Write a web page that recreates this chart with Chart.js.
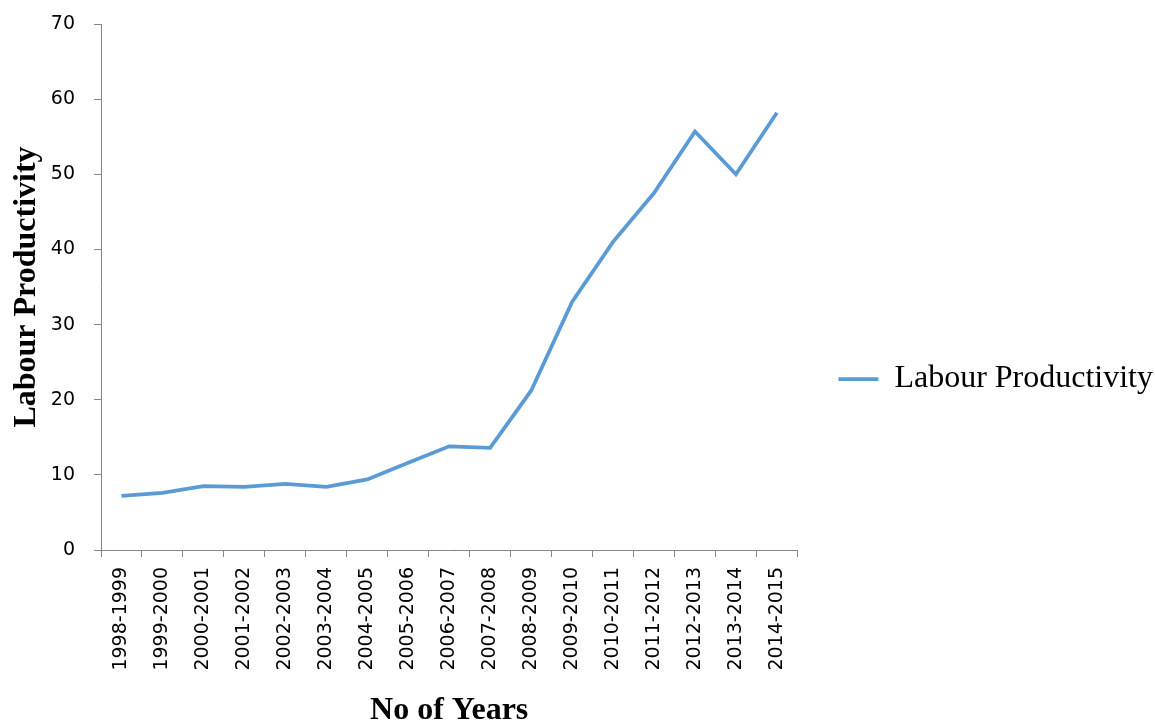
<!DOCTYPE html>
<html>
<head>
<meta charset="utf-8">
<title>Labour Productivity</title>
<script src="https://cdn.jsdelivr.net/npm/chart.js@4"></script>
<style>
    html, body { margin: 0; padding: 0; background: #ffffff; }
    #chartBox { width: 1155px; height: 724px; }
</style>
</head>
<body>
<div id="chartBox"><canvas id="prodChart" width="1155" height="724"></canvas></div>
<script>
//**** chart data
var years = ['1998-1999', '1999-2000', '2000-2001', '2001-2002', '2002-2003', '2003-2004',
    '2004-2005', '2005-2006', '2006-2007', '2007-2008', '2008-2009', '2009-2010',
    '2010-2011', '2011-2012', '2012-2013', '2013-2014', '2014-2015'];
var productivity = [7.2, 7.6, 8.5, 8.4, 8.8, 8.4, 9.4, 11.6, 13.8, 13.6, 21.2, 33.0, 41.0, 47.5, 55.7, 50.0, 58.2];
var seriesName = 'Labour Productivity';
var yTicks = [0, 10, 20, 30, 40, 50, 60, 70];

var axisColor = '#868686';
var tickFont = { family: 'DejaVu Sans', size: 19 };
var titleFont = { family: 'Liberation Serif', size: 32, weight: 'bold', lineHeight: 1 };

var prodChart;

//**** push the legend down a little so it sits where the original one does
var legendShift = {
    id: 'legendShift',
    afterLayout: function(chart) {
        if (chart.legend) {
            chart.legend.top += 10;
        }
    }
};

const ctx = document.getElementById('prodChart');
prodChart = new Chart(ctx, {
    type: 'line',
    data: {
        labels: years,
        datasets: [{
            label: seriesName,
            data: productivity,
            borderColor: '#5B9BD5',
            backgroundColor: '#5B9BD5',
            borderWidth: 3.75,
            pointRadius: 0,
            tension: 0,
            fill: false
        }]
    },
    options: {
        responsive: false,
        animation: false,
        devicePixelRatio: 1,
        layout: {
            padding: { top: 24, right: -8, bottom: 0, left: 0 }
        },
        plugins: {
            tooltip: { enabled: false },
            legend: {
                position: 'right',
                maxWidth: 400,
                labels: {
                    // zero-height box, so only the stroke shows as a line
                    boxWidth: 40,
                    boxHeight: 0,
                    padding: 41,
                    color: '#000000',
                    font: { family: 'Liberation Serif', size: 32 }
                }
            }
        },
        scales: {
            x: {
                type: 'category',
                offset: true,
                grid: { offset: true, drawOnChartArea: false, tickLength: 7, color: axisColor },
                border: { color: axisColor },
                ticks: {
                    minRotation: 90,
                    maxRotation: 90,
                    autoSkip: false,
                    padding: 10,
                    color: '#000000',
                    font: tickFont
                },
                title: {
                    display: true,
                    text: 'No of Years',
                    color: '#000000',
                    font: titleFont,
                    padding: { top: 0, bottom: -3 }
                },
                afterFit: function(scale) { scale.height = 174; }
            },
            y: {
                min: 0,
                max: 70,
                afterBuildTicks: function(scale) {
                    scale.ticks = yTicks.map(function(v) { return { value: v }; });
                },
                grid: { drawOnChartArea: false, tickLength: 7, color: axisColor },
                border: { color: axisColor },
                ticks: {
                    padding: 19,
                    color: '#000000',
                    font: tickFont
                },
                title: {
                    display: true,
                    text: 'Labour Productivity',
                    color: '#000000',
                    font: titleFont,
                    padding: { top: 11, bottom: 0 }
                },
                afterFit: function(scale) {
                    scale.width = 101;
                    scale.paddingTop = 11;
                    scale.paddingBottom = 11;
                }
            }
        }
    },
    plugins: [legendShift]
});
</script>
</body>
</html>
